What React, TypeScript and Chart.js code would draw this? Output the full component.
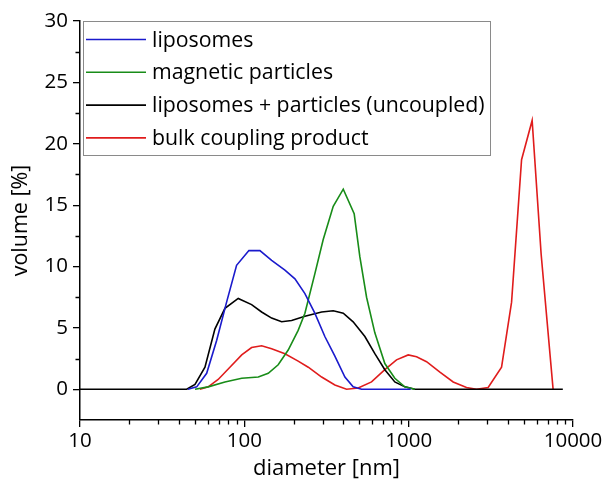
import React, { useEffect, useRef } from 'react';
import { Chart, registerables } from 'chart.js';

Chart.register(...registerables);

// ---- data ----
const seriesLabels = [
  'liposomes',
  'magnetic particles',
  'liposomes + particles (uncoupled)',
  'bulk coupling product',
];

const liposomesDiameter = [45.4, 51.3, 59.0, 67.9, 78.0, 89.7, 106.6, 124.4, 146.6, 176.6, 203.2, 233.7, 268.5, 309.0, 355.6, 409.3, 459.3, 516.5, 1030];
const liposomesVolume = [0, 0.2, 1.3, 4.0, 7.1, 10.1, 11.3, 11.3, 10.5, 9.7, 9.0, 7.8, 6.2, 4.3, 2.7, 1.0, 0.2, 0, 0];

const magneticDiameter = [50.1, 60.3, 76.2, 96.4, 121.6, 139.8, 160.7, 184.9, 212.6, 233.7, 268.5, 302.0, 347.5, 399.9, 466.0, 504.5, 554.4, 622.6, 716.1, 823.7, 947.5, 1090];
const magneticVolume = [0, 0.2, 0.6, 0.9, 1.0, 1.3, 2.0, 3.2, 4.8, 6.2, 9.4, 12.2, 14.9, 16.3, 14.3, 10.8, 7.5, 4.6, 2.1, 0.9, 0.2, 0];

const mixtureDiameter = [10, 44.6, 50.1, 57.6, 66.2, 76.2, 91.8, 110.7, 127.4, 146.6, 168.6, 194.0, 233.7, 295.4, 347.5, 399.9, 459.3, 541.5, 622.6, 716.1, 823.7, 947.5, 1090, 8670];
const mixtureVolume = [0, 0, 0.4, 1.8, 4.9, 6.6, 7.4, 6.9, 6.3, 5.8, 5.5, 5.6, 5.95, 6.3, 6.4, 6.2, 5.5, 4.3, 2.9, 1.6, 0.6, 0.2, 0, 0];

const couplingDiameter = [53.7, 60.3, 69.3, 81.7, 96.4, 110.7, 127.4, 146.6, 176.6, 212.6, 244.9, 295.4, 355.6, 418.8, 493.2, 594.3, 716.1, 843.4, 993.5, 1117, 1285, 1549, 1866, 2249, 2588, 3046, 3675, 4229, 4864, 5641, 6400, 7568];
const couplingVolume = [0, 0.2, 0.8, 1.8, 2.8, 3.4, 3.55, 3.3, 2.9, 2.3, 1.8, 1.0, 0.35, 0, 0.1, 0.6, 1.6, 2.4, 2.8, 2.65, 2.25, 1.4, 0.6, 0.15, 0, 0.15, 1.8, 7.1, 18.7, 21.9, 11.0, 0];

const xTickValues = [10, 100, 1000, 10000];
const xMinorTickValues = [20, 30, 40, 50, 60, 70, 80, 90, 200, 300, 400, 500, 600, 700, 800, 900, 2000, 3000, 4000, 5000, 6000, 7000, 8000, 9000];
const yTickValues = [0, 5, 10, 15, 20, 25, 30];
const yMinorTickValues = [2.5, 7.5, 12.5, 17.5, 22.5, 27.5];

const seriesColors = ['#1a1acc', '#188c18', '#000000', '#e01c1c'];

const FONT = "'Open Sans', 'Noto Sans', 'DejaVu Sans', sans-serif";

const toPoints = (xs: number[], ys: number[]) => xs.map((x, i) => ({ x, y: ys[i] }));

const minorTicksPlugin = {
  id: 'minorTicks',
  afterDraw(chart: any) {
    const { ctx, chartArea, scales } = chart;
    ctx.save();
    ctx.strokeStyle = '#000';
    ctx.lineWidth = 1.3;
    ctx.beginPath();
    for (const v of xMinorTickValues) {
      const px = Math.round(scales.x.getPixelForValue(v)) + 0.5;
      ctx.moveTo(px, chartArea.bottom);
      ctx.lineTo(px, chartArea.bottom + 4.5);
    }
    for (const v of yMinorTickValues) {
      const py = Math.round(scales.y.getPixelForValue(v)) + 0.5;
      ctx.moveTo(chartArea.left, py);
      ctx.lineTo(chartArea.left - 4.5, py);
    }
    ctx.stroke();
    ctx.restore();
  },
};

const boxLegendPlugin = {
  id: 'boxLegend',
  afterDraw(chart: any) {
    const { ctx, chartArea } = chart;
    const x0 = chartArea.left + 3;
    const y0 = chartArea.top;
    const w = 407;
    const h = 134;
    ctx.save();
    ctx.fillStyle = '#fff';
    ctx.fillRect(x0, y0, w, h);
    ctx.strokeStyle = '#8a8a8a';
    ctx.lineWidth = 1;
    ctx.strokeRect(x0 + 0.5, y0 + 0.5, w, h);
    ctx.font = `21.3px ${FONT}`;
    ctx.textBaseline = 'middle';
    ctx.textAlign = 'left';
    chart.data.datasets.forEach((ds: any, i: number) => {
      const y = y0 + 18.5 + i * 32.8;
      ctx.strokeStyle = ds.borderColor;
      ctx.lineWidth = 1.6;
      ctx.beginPath();
      ctx.moveTo(x0 + 3, y);
      ctx.lineTo(x0 + 63, y);
      ctx.stroke();
      ctx.fillStyle = '#000';
      ctx.fillText(ds.label, x0 + 69, y + 1);
    });
    ctx.restore();
  },
};

export default function App() {
  const canvasRef = useRef<HTMLCanvasElement | null>(null);

  useEffect(() => {
    document.body.style.margin = '0';
    const canvas = canvasRef.current;
    if (!canvas) return;
    const series = [
      toPoints(liposomesDiameter, liposomesVolume),
      toPoints(magneticDiameter, magneticVolume),
      toPoints(mixtureDiameter, mixtureVolume),
      toPoints(couplingDiameter, couplingVolume),
    ];
    const chart = new Chart(canvas, {
      type: 'line',
      data: {
        datasets: series.map((data, i) => ({
          label: seriesLabels[i],
          data,
          borderColor: seriesColors[i],
          backgroundColor: seriesColors[i],
          borderWidth: 1.6,
          pointRadius: 0,
          tension: 0,
          fill: false,
        })),
      },
      options: {
        animation: false,
        responsive: false,
        devicePixelRatio: 1,
        layout: { padding: { left: 0, top: 21, right: 35, bottom: 0 } },
        plugins: {
          legend: { display: false },
          tooltip: { enabled: false },
        },
        scales: {
          x: {
            type: 'logarithmic',
            min: 10,
            max: 10000,
            afterFit: (s: any) => { s.height = 65; },
            afterBuildTicks: (s: any) => { s.ticks = xTickValues.map((v) => ({ value: v })); },
            grid: { display: true, drawOnChartArea: false, drawTicks: true, tickLength: 7, color: '#000', lineWidth: 1.3 },
            border: { display: true, color: '#000', width: 1.5 },
            ticks: {
              color: '#000',
              font: { family: FONT, size: 20.5 },
              padding: 2,
              maxRotation: 0,
              autoSkip: false,
              callback: (v: any) => String(v),
            },
            title: {
              display: true,
              text: 'diameter [nm]',
              color: '#000',
              font: { family: FONT, size: 22 },
              padding: { top: 0, bottom: 3 },
            },
          },
          y: {
            type: 'linear',
            min: -2.5,
            max: 30,
            afterFit: (s: any) => { s.width = 80; },
            afterBuildTicks: (s: any) => { s.ticks = yTickValues.map((v) => ({ value: v })); },
            grid: { display: true, drawOnChartArea: false, drawTicks: true, tickLength: 7, color: '#000', lineWidth: 1.3 },
            border: { display: true, color: '#000', width: 1.5 },
            ticks: {
              color: '#000',
              font: { family: FONT, size: 20.5 },
              padding: 5,
              callback: (v: any) => String(v),
            },
            title: {
              display: true,
              text: 'volume [%]',
              color: '#000',
              font: { family: FONT, size: 21.5 },
              padding: { top: 8, bottom: 0 },
            },
          },
        },
      },
      plugins: [minorTicksPlugin, boxLegendPlugin],
    } as any);
    return () => chart.destroy();
  }, []);

  return (
    <div style={{ width: 608, height: 485 }}>
      <canvas ref={canvasRef} width={608} height={485} style={{ display: 'block' }} />
    </div>
  );
}
